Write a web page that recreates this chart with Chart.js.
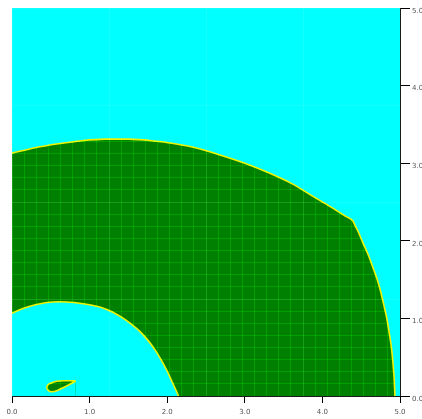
<!DOCTYPE html>
<html>
<head>
<meta charset="utf-8">
<script src="https://cdn.jsdelivr.net/npm/chart.js@4/dist/chart.umd.min.js"></script>
<style>
  html, body { margin: 0; padding: 0; background: #fff; }
  #wrap { width: 422px; height: 419px; }
</style>
</head>
<body>
<div id="wrap"><canvas id="c" width="422" height="419"></canvas></div>
<script>
// Material interface at one time step (x, y in domain units)
const outerX = [0.0, 0.3, 0.6, 0.9, 1.2, 1.5, 1.8, 2.1, 2.4, 2.7, 3.0, 3.3, 3.6, 3.9, 4.1, 4.3, 4.394,
                4.42, 4.46, 4.52, 4.59, 4.65, 4.70, 4.75, 4.79, 4.83, 4.86, 4.89, 4.91, 4.925, 4.935];
const outerY = [3.13, 3.20, 3.25, 3.29, 3.31, 3.31, 3.29, 3.25, 3.19, 3.10, 3.00, 2.88, 2.74, 2.56, 2.44, 2.315, 2.255,
                2.20, 2.12, 1.98, 1.82, 1.66, 1.52, 1.35, 1.18, 1.00, 0.82, 0.62, 0.42, 0.22, 0.0];

const innerX = [0.0, 0.15, 0.3, 0.45, 0.6, 0.8, 1.0, 1.15, 1.3, 1.45, 1.55, 1.65, 1.75, 1.843, 1.92, 1.993, 2.06, 2.122, 2.145];
const innerY = [1.066, 1.13, 1.175, 1.205, 1.215, 1.205, 1.175, 1.14, 1.08, 0.99, 0.915, 0.83, 0.72, 0.595, 0.47, 0.335, 0.19, 0.055, 0.0];

const dropTopX = [0.447, 0.455, 0.499, 0.576, 0.661, 0.747, 0.821];
const dropTopY = [0.099, 0.133, 0.164, 0.189, 0.197, 0.197, 0.193];
const dropBotX = [0.447, 0.47, 0.512, 0.597, 0.683, 0.769, 0.821];
const dropBotY = [0.099, 0.07, 0.055, 0.077, 0.120, 0.164, 0.193];

const tickValues = [0, 1, 2, 3, 4, 5];
const tickLabels = ['0.0', '1.0', '2.0', '3.0', '4.0', '5.0'];
const fineMesh = 5 / 32;   // refined cells
const coarseMesh = 5 / 4;  // base cells

const GREEN = '#008000';
const CYAN = '#00ffff';
const EDGE = '#eef200';

const pts = (xs, ys) => xs.map((x, i) => ({ x: x, y: ys[i] }));

// cyan fluid behind everything; mesh lines are added on top with additive blending
const background = {
  id: 'background',
  beforeDatasetsDraw(chart) {
    const a = chart.chartArea, ctx = chart.ctx;
    ctx.save();
    ctx.fillStyle = CYAN;
    ctx.fillRect(a.left, a.top, a.right - a.left, a.bottom - a.top);
    ctx.restore();
  },
  afterDatasetsDraw(chart) {
    chart.ctx.globalCompositeOperation = 'lighter';
  },
  afterDraw(chart) {
    chart.ctx.globalCompositeOperation = 'source-over';
  }
};

function region(data, fillColor, order) {
  return {
    data: data,
    showLine: true,
    fill: 'origin',
    backgroundColor: fillColor,
    borderColor: EDGE,
    borderWidth: 1.6,
    pointRadius: 0,
    cubicInterpolationMode: 'monotone',
    order: order
  };
}

function meshScale(position, step, color) {
  const horizontal = position === 'bottom';
  return {
    type: 'linear', position: position, min: 0, max: 5,
    afterFit(s) { if (horizontal) s.height = 0; else s.width = 0; },
    ticks: { display: false, stepSize: step, autoSkip: false, maxTicksLimit: 100 },
    grid: { color: color, lineWidth: 1, drawTicks: false, z: 1 },
    border: { display: false }
  };
}

const labelFont = { family: 'DejaVu Sans', size: 7 };

new Chart(document.getElementById('c'), {
  type: 'scatter',
  data: {
    datasets: [
      region(pts(outerX, outerY), GREEN, 4),
      region(pts(innerX, innerY), CYAN, 3),
      region(pts(dropTopX, dropTopY), GREEN, 2),
      region(pts(dropBotX, dropBotY), CYAN, 1)
    ]
  },
  options: {
    responsive: false,
    animation: false,
    events: [],
    layout: { padding: { left: 12, top: 8, right: 0, bottom: 0 } },
    plugins: { legend: { display: false }, tooltip: { enabled: false } },
    scales: {
      x: {
        type: 'linear', position: 'bottom', min: 0, max: 5,
        afterBuildTicks(s) { s.ticks = tickValues.map(v => ({ value: v })); },
        afterFit(s) { s.height = 23; },
        ticks: {
          callback: (v) => tickLabels[tickValues.indexOf(v)],
          font: labelFont, color: '#555', padding: 5, maxRotation: 0
        },
        grid: { drawOnChartArea: false, drawTicks: true, tickLength: 7, color: '#000', lineWidth: 1 },
        border: { display: true, color: '#000', width: 1, z: 0 }
      },
      y: {
        type: 'linear', position: 'right', min: 0, max: 5,
        afterBuildTicks(s) { s.ticks = tickValues.map(v => ({ value: v })); },
        afterFit(s) { s.width = 22; },
        ticks: {
          callback: (v) => tickLabels[tickValues.indexOf(v)],
          font: labelFont, color: '#555', padding: 2, labelOffset: 3
        },
        grid: { drawOnChartArea: false, drawTicks: true, tickLength: 10, color: '#000', lineWidth: 1 },
        border: { display: true, color: '#000', width: 1, z: 0 }
      },
      meshX: meshScale('bottom', fineMesh, 'rgb(0,30,0)'),
      meshY: meshScale('left', fineMesh, 'rgb(0,30,0)'),
      baseX: meshScale('bottom', coarseMesh, 'rgb(22,0,22)'),
      baseY: meshScale('left', coarseMesh, 'rgb(22,0,22)')
    }
  },
  plugins: [background]
});
</script>
</body>
</html>
